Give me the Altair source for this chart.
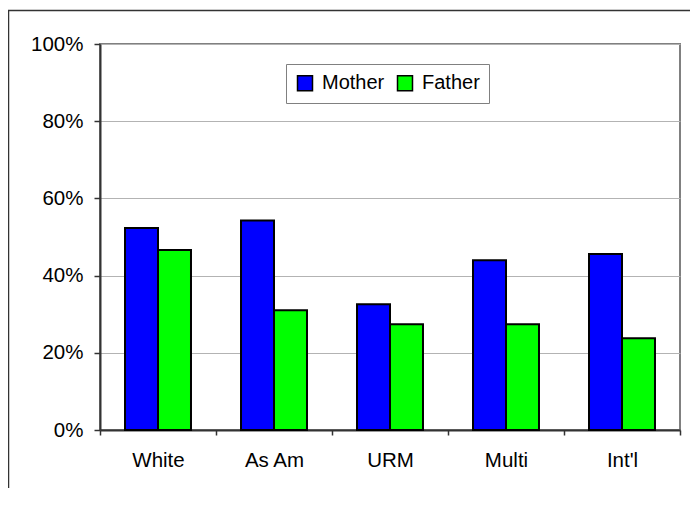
import altair as alt
import pandas as pd

categories = ["White", "As Am", "URM", "Multi", "Int'l"]
series = ["Mother", "Father"]
mother = [0.523, 0.543, 0.326, 0.440, 0.456]
father = [0.466, 0.310, 0.274, 0.274, 0.238]
y_ticks = [0, 0.2, 0.4, 0.6, 0.8, 1.0]
colors = ["#0000FF", "#00FF00"]

rows = []
for c, m, f in zip(categories, mother, father):
    rows.append({"cat": c, "who": "Mother", "val": m})
    rows.append({"cat": c, "who": "Father", "val": f})
df = pd.DataFrame(rows)

FONT = "Liberation Sans"

bars = alt.Chart(df).mark_bar(stroke="black", strokeWidth=2).encode(
    x=alt.X("cat:N", sort=categories,
            scale=alt.Scale(paddingInner=0, paddingOuter=0),
            axis=alt.Axis(title=None, labelAngle=0, tickBand="extent",
                          labelFont=FONT, labelFontSize=20.5, labelColor="black",
                          labelPadding=15, tickSize=5, tickColor="#333333", tickWidth=1.5,
                          domainColor="#333333", domainWidth=2, grid=False)),
    xOffset=alt.XOffset("who:N", sort=series,
                        scale=alt.Scale(domain=series, paddingInner=0, paddingOuter=0.758)),
    y=alt.Y("val:Q", scale=alt.Scale(domain=[0, 1], nice=False),
            axis=alt.Axis(title=None, values=y_ticks, format=".0%",
                          labelFont=FONT, labelFontSize=20.5, labelColor="black",
                          labelPadding=11, tickSize=6, tickColor="#333333", tickWidth=1.5,
                          domainColor="#333333", domainWidth=2,
                          grid=True, gridColor="#b3b3b3", gridWidth=1)),
    color=alt.Color("who:N", sort=series,
                    scale=alt.Scale(domain=series, range=colors),
                    legend=alt.Legend(title=None, orient="none", direction="horizontal",
                                      legendX=186, legendY=20,
                                      symbolType="square", symbolSize=225,
                                      symbolStrokeColor="black", symbolStrokeWidth=1.5,
                                      labelFont=FONT, labelFontSize=20, labelColor="black",
                                      labelOffset=7, columnPadding=9, padding=9,
                                      strokeColor="#808080", fillColor="white")),
)

frame_df = pd.DataFrame({"k": [0]})
left_line = alt.Chart(frame_df).mark_rule(color="#333333", strokeWidth=1.5).encode(
    x=alt.value(-91.5), y=alt.value(-34), y2=alt.value(480))
top_line = alt.Chart(frame_df).mark_rule(color="#333333", strokeWidth=1.5).encode(
    x=alt.value(-92), x2=alt.value(620), y=alt.value(-33.5))

chart = alt.layer(bars, left_line, top_line).properties(
    width=580, height=386,
    padding={"left": 92, "top": 36, "right": 10, "bottom": 58},
    autosize=alt.AutoSizeParams(type="none"),
).configure_view(stroke="#808080", strokeWidth=2)

chart.save("out.html", embed_options={"renderer": "svg", "actions": False})
